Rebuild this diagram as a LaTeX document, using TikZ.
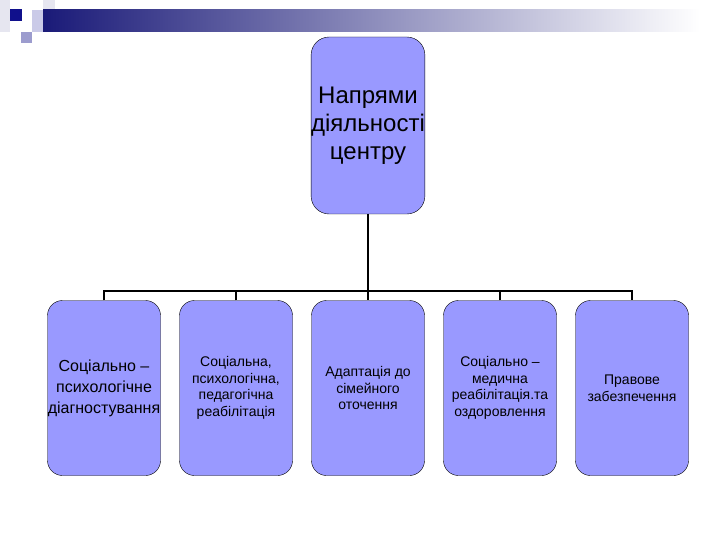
\documentclass[tikz,border=0pt]{standalone}
\usepackage{fontspec}
\setmainfont{Liberation Sans}
\usetikzlibrary{positioning}
\definecolor{boxfill}{HTML}{9999FF}
\definecolor{navy}{HTML}{1A1A78}
\definecolor{sqdark}{HTML}{10108C}
\definecolor{sqmid}{HTML}{9C9CCE}
\definecolor{sqlight}{HTML}{CACAE8}
\definecolor{sqfaint}{HTML}{E6E6F0}

\begin{document}
\begin{tikzpicture}[
    x=1pt, y=-1pt,
    topbox/.style={rectangle, draw=black, fill=boxfill, minimum width=111pt, minimum height=177pt, align=center, font=\fontsize{24}{28}\selectfont, rounded corners=18pt, inner sep=0pt},
    subbox/.style={rectangle, draw=black, fill=boxfill, minimum width=113pt, minimum height=175pt, align=center, font=\fontsize{14}{16.5}\selectfont, rounded corners=15pt, inner sep=0pt},
    conn/.style={draw=black, line width=2.8pt},
]
    \useasboundingbox (0,0) rectangle (720,540);
    % header decoration
    \fill[sqfaint] (0,0) rectangle (10,32);
    \fill[sqlight] (32,10) rectangle (43,32);
    \fill[sqfaint] (43,0) rectangle (55,10);
    \shade[left color=navy, right color=white] (43,10) rectangle (700,32);
    \fill[sqdark] (10,9) rectangle (22,21);
    \fill[sqmid] (21,32) rectangle (32,43);

    \node[topbox] (top) at (368,125.5) {Напрями\\діяльності\\центру};

    \node[subbox, font=\fontsize{16}{21}\selectfont] (b1) at (104,388) {Соціально –\\психологічне\\діагностування};
    \node[subbox] (b2) at (236,388) {Соціальна,\\психологічна,\\педагогічна\\реабілітація};
    \node[subbox] (b3) at (368,388) {Адаптація до\\сімейного\\оточення};
    \node[subbox] (b4) at (500,388) {Соціально –\\медична\\реабілітація.та\\оздоровлення};
    \node[subbox] (b5) at (632,388) {Правове\\забезпечення};

    \coordinate (bar) at (368,291);
    \draw[conn] (top.south) -- (b3.north);
    \draw[conn] (b1.north) -- (b1.north |- bar) -- (b5.north |- bar) -- (b5.north);
    \foreach \b in {b2,b4}
        \draw[conn] (\b.north) -- (\b.north |- bar);
\end{tikzpicture}
\end{document}
